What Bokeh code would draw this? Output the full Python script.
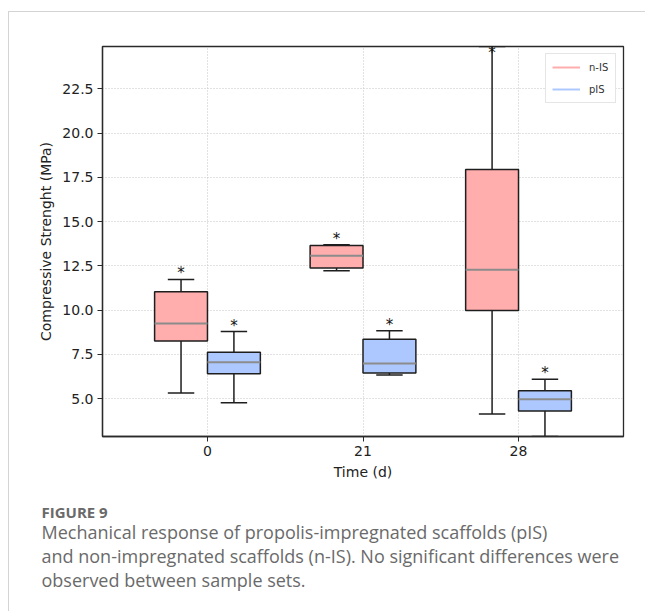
from bokeh.plotting import figure
from bokeh.models import (Range1d, FixedTicker, PrintfTickFormatter, Legend,
                          LegendItem, Title, ColumnDataSource)
from bokeh.core.properties import value
from bokeh.embed import file_html
from bokeh.resources import INLINE

# ---------------- data ----------------
days = ["0", "21", "28"]
y_ticks = [5.0, 7.5, 10.0, 12.5, 15.0, 17.5, 20.0, 22.5]

# n-IS (non-impregnated scaffolds)
nis_low = [5.32, 12.22, 4.13]
nis_q1 = [8.26, 12.38, 9.98]
nis_med = [9.24, 13.07, 12.28]
nis_q3 = [11.04, 13.65, 17.94]
nis_high = [11.73, 13.69, 24.89]

# pIS (propolis-impregnated scaffolds)
pis_low = [4.77, 6.34, 2.86]
pis_q1 = [6.40, 6.44, 4.30]
pis_med = [7.06, 6.98, 4.97]
pis_q3 = [7.62, 8.36, 5.44]
pis_high = [8.79, 8.83, 6.10]

series_names = ["n-IS", "pIS"]

caption_title = "FIGURE 9"
caption_lines = [
    "Mechanical response of propolis-impregnated scaffolds (pIS)",
    "and non-impregnated scaffolds (n-IS). No significant differences were",
    "observed between sample sets.",
]

# ---------------- style ----------------
NIS_FILL = "#ffadad"
PIS_FILL = "#adc8ff"
EDGE = "#1e1e1e"
MEDIAN = "#8c8c8c"
FONT = "DejaVu Sans"
Y_START, Y_END = 2.86, 24.89
OFFSET = 0.17
BOX_W = 0.34

p = figure(width=637, height=600, output_backend="svg", toolbar_location=None,
           x_range=Range1d(0.325, 3.675), y_range=Range1d(Y_START, Y_END),
           min_border_left=93, min_border_right=23, min_border_top=34,
           min_border_bottom=176)
p.styles = {"border-top": "1px solid #d4d4d4",
            "border-left": "1px solid #d4d4d4",
            "margin-top": "11px", "margin-left": "8px"}
p.background_fill_color = "white"
p.border_fill_color = "white"
p.outline_line_color = "#2a2a2a"
p.outline_line_width = 1.3

positions = [i + 1 for i in range(len(days))]


def draw_boxes(low, q1, med, q3, high, shift, fill):
    xs = [x + shift for x in positions]
    src = ColumnDataSource(dict(
        x=xs, low=low, q1=q1, med=med, q3=q3, high=high,
        x0=[x - BOX_W / 2 for x in xs], x1=[x + BOX_W / 2 for x in xs],
        c0=[x - BOX_W / 4 for x in xs], c1=[x + BOX_W / 4 for x in xs],
        star=[min(h, Y_END - 0.72) for h in high],
    ))
    # whiskers
    p.segment(x0="x", y0="q3", x1="x", y1="high", source=src,
              line_color=EDGE, line_width=1.5)
    p.segment(x0="x", y0="q1", x1="x", y1="low", source=src,
              line_color=EDGE, line_width=1.5)
    # caps
    p.segment(x0="c0", y0="high", x1="c1", y1="high", source=src,
              line_color=EDGE, line_width=1.5)
    p.segment(x0="c0", y0="low", x1="c1", y1="low", source=src,
              line_color=EDGE, line_width=1.5)
    # boxes
    p.quad(left="x0", right="x1", bottom="q1", top="q3", source=src,
           fill_color=fill, line_color=EDGE, line_width=1.5)
    # medians
    p.segment(x0="x0", y0="med", x1="x1", y1="med", source=src,
              line_color=MEDIAN, line_width=2)
    # significance stars
    p.text(x="x", y="star", text=value("*"), source=src,
           text_font=value(FONT), text_font_size="15px",
           text_align="center", text_baseline="alphabetic", y_offset=-6,
           text_color="#111111")


draw_boxes(nis_low, nis_q1, nis_med, nis_q3, nis_high, -OFFSET, NIS_FILL)
draw_boxes(pis_low, pis_q1, pis_med, pis_q3, pis_high, OFFSET, PIS_FILL)

# legend (line samples only; renderers carry no visible data)
nan = float("nan")
r1 = p.line(x=[nan], y=[nan], line_color=NIS_FILL, line_width=2)
r2 = p.line(x=[nan], y=[nan], line_color=PIS_FILL, line_width=2)
legend = Legend(items=[LegendItem(label=series_names[0], renderers=[r1]),
                       LegendItem(label=series_names[1], renderers=[r2])],
                location="top_right")
legend.label_text_font = FONT
legend.label_text_font_size = "10px"
legend.label_text_color = "#333333"
legend.glyph_width = 28
legend.glyph_height = 14
legend.label_height = 14
legend.label_standoff = 9
legend.spacing = 8
legend.padding = 6
legend.margin = 7
legend.border_line_color = "#cccccc"
legend.border_line_width = 1
legend.background_fill_alpha = 1.0
p.add_layout(legend)

# axes
p.xaxis.ticker = FixedTicker(ticks=positions)
p.xaxis.major_label_overrides = {pos: d for pos, d in zip(positions, days)}
p.yaxis.ticker = FixedTicker(ticks=y_ticks)
p.yaxis.formatter = PrintfTickFormatter(format="%.1f")
p.xaxis.axis_label = "Time (d)"
p.yaxis.axis_label = "Compressive Strenght (MPa)"
for ax in (p.xaxis, p.yaxis):
    ax.axis_label_text_font = FONT
    ax.axis_label_text_font_size = "14px"
    ax.axis_label_text_font_style = "normal"
    ax.axis_label_text_color = "#222222"
    ax.major_label_text_font = FONT
    ax.major_label_text_font_size = "14px"
    ax.major_label_text_color = "#222222"
    ax.axis_line_color = "#2a2a2a"
    ax.axis_line_width = 1.3
    ax.major_tick_line_color = "#2a2a2a"
    ax.major_tick_in = 0
    ax.major_tick_out = 5
    ax.minor_tick_line_color = None
    ax.major_label_standoff = 4
    ax.axis_label_standoff = 5

p.xgrid.ticker = FixedTicker(ticks=positions)
for g in (p.xgrid, p.ygrid):
    g.grid_line_color = "#c4c4c4"
    g.grid_line_dash = "1 2"
    g.grid_line_width = 1

# caption (stacked titles below the x axis); the leading line break of the
# first title leaves the white gap between the axis label and the caption
p.add_layout(Title(text="\n" + caption_title, align="left", offset=-61,
                   standoff=-8, text_line_height=1.08,
                   text_font="Open Sans", text_font_size="15px",
                   text_font_style="bold", text_color="#6a6a6a"), "below")
for line in caption_lines:
    p.add_layout(Title(text=line, align="left", offset=-61, standoff=-2,
                       text_font="Open Sans", text_font_size="18px",
                       text_font_style="normal", text_color="#6a6a6a"),
                 "below")

open("out.html", "w").write(file_html(p, INLINE))
